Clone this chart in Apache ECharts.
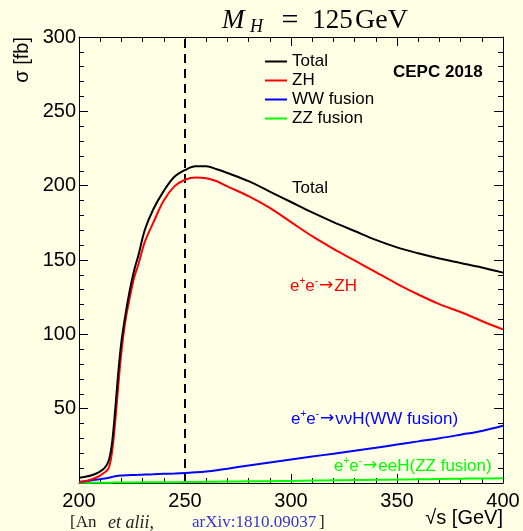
<!DOCTYPE html>
<html>
<head>
<meta charset="utf-8">
<script src="https://cdn.jsdelivr.net/npm/echarts@6/dist/echarts.min.js"></script>
<style>
html,body{margin:0;padding:0;background:#FFFFE6;}
#chart{width:523px;height:531px;}
</style>
</head>
<body>
<div id="chart"></div>
<script>
// sqrt(s) sample points [GeV]
const sqrtS = [200, 203, 206, 209, 212, 214, 215.5, 217, 218.5, 220, 222, 224, 226, 228, 231, 235, 240, 245, 250, 255, 260, 265, 270, 280, 290, 300, 310, 320, 330, 340, 350, 360, 370, 380, 390, 400];
// cross sections [fb]
const totalXS = [3.5, 4.2, 5.2, 7, 10, 15, 26, 48, 74, 95, 114, 130, 143, 153, 170, 184, 196.5, 206, 210.5, 213, 213, 211, 208.5, 203, 196, 189, 182, 175.5, 169.5, 163.5, 158.5, 154.5, 151, 148, 145, 141.5];
const zhXS    = [0.5, 1.2, 2.5, 4.2, 7, 10, 20, 40, 65, 88, 110, 125, 138, 147, 162, 175, 190, 199.5, 204, 205.5, 205, 203, 199.5, 193, 185, 175.5, 166, 157.5, 149.7, 141.8, 134, 126.8, 120.3, 115, 109, 103.3];
const wwXS    = [0.8, 1.2, 1.8, 2.4, 3.0, 3.5, 4.0, 4.6, 4.9, 5.0, 5.2, 5.3, 5.4, 5.5, 5.7, 5.9, 6.2, 6.4, 6.7, 7.2, 7.8, 8.6, 9.6, 11.8, 13.8, 15.8, 17.8, 19.7, 21.7, 23.7, 25.9, 28, 30.1, 32.5, 35, 38.5];
const zzXS    = [0.1, 0.1, 0.15, 0.2, 0.2, 0.25, 0.25, 0.3, 0.3, 0.3, 0.35, 0.35, 0.4, 0.4, 0.45, 0.5, 0.5, 0.55, 0.6, 0.7, 0.8, 0.9, 1.0, 1.1, 1.25, 1.4, 1.6, 1.8, 2.0, 2.15, 2.3, 2.5, 2.7, 2.9, 3.05, 3.2];
const seriesNames = ['Total', 'ZH', 'WW fusion', 'ZZ fusion'];
const seriesColors = ['#000000', '#FF0000', '#0000FF', '#00FF00'];
const higgsLine = 250;
const xRange = [200, 400];
const yRange = [0, 300];
const tickStep = 50;

const allVals = [totalXS, zhXS, wwXS, zzXS];
const FONT = 'Liberation Sans, Arial, Helvetica, DejaVu Sans, sans-serif';
const SERIF = 'Liberation Serif, DejaVu Serif, serif';

function axisCommon(pos, showLabel) {
  return {
    type: 'value', position: pos,
    axisLine: { show: true, onZero: false, lineStyle: { color: '#000', width: 1 } },
    axisTick: { show: true, inside: true, length: 9, lineStyle: { color: '#000', width: 1 } },
    minorTick: { show: true, splitNumber: 5, length: 5, lineStyle: { color: '#000', width: 1 } },
    splitLine: { show: false },
    axisLabel: { show: showLabel, fontSize: 20, color: '#000', fontFamily: FONT }
  };
}

const xBottom = Object.assign(axisCommon('bottom', true), { min: xRange[0], max: xRange[1], interval: tickStep });
xBottom.axisLabel.margin = 8;
const xTop = Object.assign(axisCommon('top', false), { min: xRange[0], max: xRange[1], interval: tickStep });
const yLeft = Object.assign(axisCommon('left', true), { min: yRange[0], max: yRange[1], interval: tickStep });
yLeft.axisLabel.margin = 3;
yLeft.axisLabel.formatter = v => (v === 0 ? '' : String(v));
const yRight = Object.assign(axisCommon('right', false), { min: yRange[0], max: yRange[1], interval: tickStep });

const series = seriesNames.map((name, k) => ({
  name: name, type: 'line', xAxisIndex: 0, yAxisIndex: 0,
  data: sqrtS.map((x, i) => [x, allVals[k][i]]),
  showSymbol: false, smooth: 0.35,
  lineStyle: { color: seriesColors[k], width: 2 },
  itemStyle: { color: seriesColors[k] },
  z: 10 - k
}));
series[0].markLine = {
  silent: true, symbol: 'none', animation: false,
  label: { show: false },
  lineStyle: { color: '#000', width: 2, type: [9, 6] },
  data: [{ xAxis: higgsLine }]
};

function procRich(color) {
  return {
    n: { fontFamily: FONT, fontSize: 17, lineHeight: 20, fill: color },
    s: { fontFamily: FONT, fontSize: 10, lineHeight: 10, verticalAlign: 'top', fill: color },
    a: { fontFamily: 'DejaVu Sans, sans-serif', fontSize: 17, lineHeight: 20, fill: color, padding: [0, 1, 0, 1] }
  };
}

const option = {
  backgroundColor: '#FFFFE6',
  animation: false,
  grid: { left: 79, right: 20, top: 37, bottom: 48 },
  xAxis: [xBottom, xTop],
  yAxis: [yLeft, yRight],
  legend: {
    orient: 'vertical', left: 265, top: 53, padding: 0, itemGap: 2,
    itemWidth: 22, itemHeight: 2, icon: 'rect',
    textStyle: { fontSize: 17, lineHeight: 16, color: '#000', fontFamily: FONT },
    data: seriesNames
  },
  series: series,
  graphic: [
    { type: 'text', x: 222, y: 21, style: {
      verticalAlign: 'middle',
      rich: {
        m: { fontFamily: SERIF, fontSize: 27, lineHeight: 30, fontStyle: 'italic', fill: '#000', width: 28 },
        h: { fontFamily: SERIF, fontSize: 18, lineHeight: 11, verticalAlign: 'bottom', fontStyle: 'italic', fill: '#000', width: 28 },
        e: { fontFamily: SERIF, fontSize: 30, lineHeight: 30, fill: '#000', width: 24, align: 'center' },
        q: { fontFamily: SERIF, fontSize: 27, lineHeight: 30, fill: '#000', width: 8 },
        d: { fontFamily: SERIF, fontSize: 27, lineHeight: 30, fill: '#000', width: 45 },
        g: { fontFamily: SERIF, fontSize: 28, lineHeight: 30, fill: '#000' }
      },
      text: '{m|M}{h|H}{e|=}{q| }{d|125}{g|GeV}'
    } },
    { type: 'text', x: 393, y: 72, style: { text: 'CEPC 2018', font: 'bold 17px ' + FONT, fill: '#000', verticalAlign: 'middle' } },
    { type: 'text', x: 292, y: 188, style: { text: 'Total', font: '17px ' + FONT, fill: '#000', verticalAlign: 'middle' } },
    { type: 'text', x: 290, y: 286, style: { verticalAlign: 'middle', rich: procRich('#FF0000'), text: '{n|e}{s|+}{n|e}{s|-}{a|→}{n|ZH}' } },
    { type: 'text', x: 291, y: 419, style: { verticalAlign: 'middle', rich: procRich('#0000FF'), text: '{n|e}{s|+}{n|e}{s|-}{a|→}{n|ννH(WW fusion)}' } },
    { type: 'text', x: 334, y: 466, style: { verticalAlign: 'middle', rich: procRich('#00FF00'), text: '{n|e}{s|+}{n|e}{s|-}{a|→}{n|eeH(ZZ fusion)}' } },
    { type: 'text', x: 503, y: 518, style: { text: '√s [GeV]', font: '20px ' + FONT, fill: '#000', align: 'right', verticalAlign: 'middle' } },
    { type: 'text', x: 22, y: 37, rotation: Math.PI / 2, style: { text: 'σ [fb]', font: '20px ' + FONT, fill: '#000', align: 'right', verticalAlign: 'middle' } },
    { type: 'text', x: 70, y: 523, style: {
      verticalAlign: 'middle',
      rich: {
        a: { fontFamily: SERIF, fontSize: 17, fill: '#222', width: 38 },
        i: { fontFamily: SERIF, fontSize: 18, fontStyle: 'italic', fill: '#222', width: 84 },
        b: { fontFamily: SERIF, fontSize: 17, fill: '#3535D5', width: 127 },
        c: { fontFamily: SERIF, fontSize: 17, fill: '#222' }
      },
      text: '{a|[An}{i|et alii,}{b|arXiv:1810.09037}{c|]}'
    } }
  ]
};

const chart = echarts.init(document.getElementById('chart'), null, { renderer: 'canvas' });
chart.setOption(option);
</script>
</body>
</html>
